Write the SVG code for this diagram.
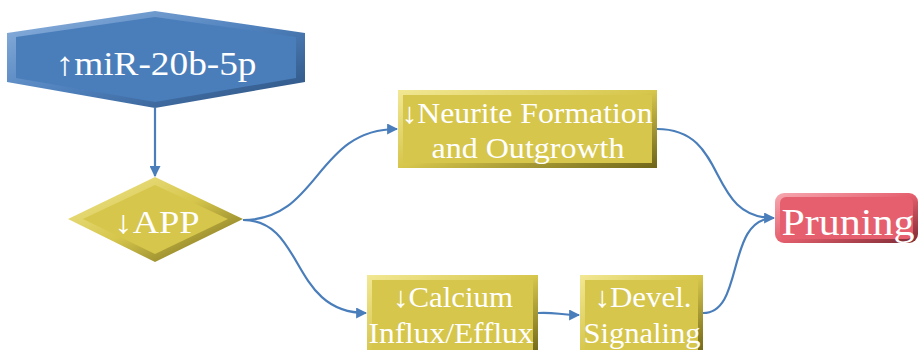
<svg xmlns="http://www.w3.org/2000/svg" width="920" height="350" viewBox="0 0 920 350">
<defs>
<style>
.t{font-family:'Liberation Serif','DejaVu Serif',serif;fill:#ffffff;text-anchor:middle}
.c{fill:none;stroke:#4a7ebb;stroke-width:2.2}
</style>
<linearGradient id="gBlue" x1="0" y1="0" x2="1" y2="1"><stop offset="0" stop-color="#8fb3de"/><stop offset="0.5" stop-color="#4f81bd"/><stop offset="1" stop-color="#2b4f7c"/></linearGradient>
<linearGradient id="gGold" x1="0" y1="0" x2="1" y2="1"><stop offset="0" stop-color="#f2e894"/><stop offset="0.5" stop-color="#d6c64c"/><stop offset="1" stop-color="#6e6418"/></linearGradient>
<linearGradient id="gRed" x1="0" y1="0" x2="1" y2="1"><stop offset="0" stop-color="#f7a9b1"/><stop offset="0.5" stop-color="#e55f6e"/><stop offset="1" stop-color="#7c2a33"/></linearGradient>
<marker id="ah" viewBox="0 0 10 10" refX="9" refY="5" markerWidth="5" markerHeight="5" orient="auto" markerUnits="strokeWidth"><path d="M0,0 L10,5 L0,10 z" fill="#4a7ebb"/></marker>
</defs>
<g id="connectors">
<path class="c" d="M155,108 L155,176" marker-end="url(#ah)"/>
<path class="c" d="M243,220 C320,220 315,129 397,129" marker-end="url(#ah)"/>
<path class="c" d="M243,220 C305,220 290,313 366,313" marker-end="url(#ah)"/>
<path class="c" d="M538,313 C555,312 560,315 579,315" marker-end="url(#ah)"/>
<path class="c" d="M657,129 C730,129 705,218 774,218" marker-end="url(#ah)"/>
<path class="c" d="M703,313 C745,313 725,218 774,218"/>
</g>
<g id="mir">
<polygon points="155,11 305,33 305,82 155,108 7,82 7,33" fill="url(#gBlue)"/>
<polygon points="155,17 296,37 296,78 155,102 16,78 16,37" fill="#4a7ebb"/>
<text class="t" x="156" y="75" font-size="33" textLength="201" lengthAdjust="spacingAndGlyphs">↑miR-20b-5p</text>
</g>
<g id="app">
<polygon points="155,177 243,219 155,262 68,219" fill="url(#gGold)"/>
<polygon points="155,185 228,219 155,254 83,219" fill="#d6c64c"/>
<text class="t" x="157" y="233" font-size="32" textLength="85" lengthAdjust="spacingAndGlyphs">↓APP</text>
</g>
<g id="neurite">
<rect x="398" y="90" width="259" height="78" fill="url(#gGold)"/>
<rect x="403" y="95" width="249" height="68" fill="#d6c64c"/>
<text class="t" x="527" y="123" font-size="29" textLength="251" lengthAdjust="spacingAndGlyphs">↓Neurite Formation</text>
<text class="t" x="528" y="158" font-size="29" textLength="193" lengthAdjust="spacingAndGlyphs">and Outgrowth</text>
</g>
<g id="calcium">
<rect x="367" y="275" width="171" height="80" fill="url(#gGold)"/>
<rect x="372" y="280" width="161" height="72" fill="#d6c64c"/>
<text class="t" x="453" y="307" font-size="29" textLength="120" lengthAdjust="spacingAndGlyphs">↓Calcium</text>
<text class="t" x="451" y="343" font-size="29" textLength="165" lengthAdjust="spacingAndGlyphs">Influx/Efflux</text>
</g>
<g id="devel">
<rect x="580" y="275" width="123" height="80" fill="url(#gGold)"/>
<rect x="585" y="280" width="113" height="72" fill="#d6c64c"/>
<text class="t" x="643" y="307" font-size="29" textLength="97" lengthAdjust="spacingAndGlyphs">↓Devel.</text>
<text class="t" x="642" y="343" font-size="29" textLength="117" lengthAdjust="spacingAndGlyphs">Signaling</text>
</g>
<g id="pruning">
<rect x="775" y="193" width="143" height="50" rx="9" fill="url(#gRed)"/>
<rect x="780" y="197" width="133" height="42" rx="6" fill="#e55f6e"/>
<text class="t" x="848" y="235" font-size="37" textLength="133" lengthAdjust="spacingAndGlyphs">Pruning</text>
</g>
</svg>
